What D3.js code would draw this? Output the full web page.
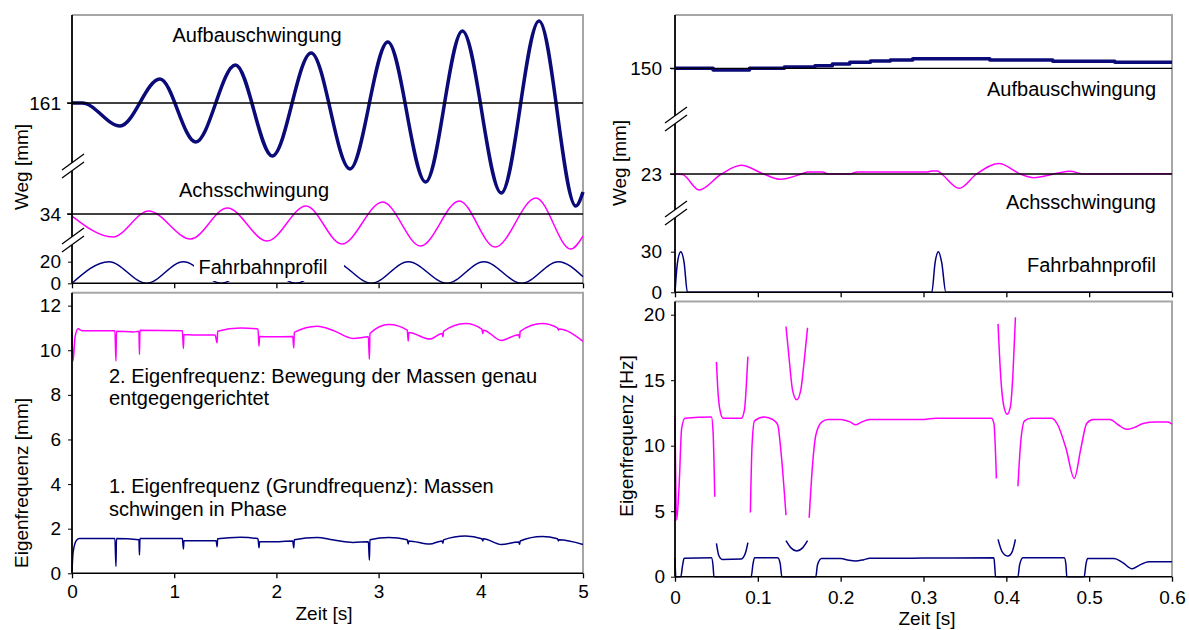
<!DOCTYPE html>
<html>
<head>
<meta charset="utf-8">
<script src="https://cdn.jsdelivr.net/npm/d3@7"></script>
<style>
body { margin: 0; background: #fff; }
</style>
</head>
<body>
<svg id="chart" width="1189" height="630"></svg>
<script>
// ---- data ----
// left: Zeit 0..5 s
var leftTicksX = [0, 1, 2, 3, 4, 5];
var rightTicksX = [0, 0.1, 0.2, 0.3, 0.4, 0.5, 0.6];
var eigLeftTicks = [0, 2, 4, 6, 8, 10, 12];
var eigRightTicks = [0, 5, 10, 15, 20];

// [t, mm]  (axis is broken, each band has its own base value)
var aufbauLeft = [[0,161],[0.1,161],[0.47,139.7],[0.86,183.2],[1.21,124.9],[1.60,196.2],[1.96,111.9],[2.34,207.3],
  [2.72,99.9],[3.09,217.5],[3.46,87.9],[3.82,227.7],[4.20,77.7],[4.57,236.9],[4.93,65.6],[5.0,78.6]];
var achsLeft = [[0,32.1],[0.40,12.7],[0.75,36.8],[1.16,10.9],[1.52,39.6],[1.91,9.0],[2.29,41.4],[2.64,6.2],
  [3.04,45.1],[3.41,4.4],[3.79,46.0],[4.14,3.4],[4.54,48.8],[4.88,1.6],[5.0,13.6]];
var profilLeft = [[0,0],[0.36,20],[0.73,0],[1.09,20],[1.46,0],[1.82,20],[2.19,0],[2.56,20],[2.93,0],
  [3.29,20],[3.67,0],[4.03,20],[4.40,0],[4.76,20],[5.0,6]];

// [t, Hz]
var eigen2Left = [[0,10.85],[0.01,9.52],[0.03,10.6],[0.06,10.96],[0.1,10.87],[0.42,10.87],[0.43,9.52],[0.435,10.85],
  [0.6,10.82],[0.655,10.85],[0.66,9.81],[0.665,10.9],[1.08,10.87],[1.09,10.08],[1.095,10.7],[1.2,10.68],[1.4,10.68],
  [1.42,10.33],[1.425,10.85],[1.65,11.0],[1.82,10.95],[1.83,10.18],[1.835,10.62],[1.95,10.6],[2.16,10.62],[2.17,10.1],
  [2.175,10.8],[2.4,11.08],[2.55,10.9],[2.75,10.53],[2.9,10.6],[2.91,9.59],[2.915,10.75],[3.1,11.15],[3.28,10.9],
  [3.29,10.41],[3.295,10.8],[3.5,10.5],[3.62,10.75],[3.63,10.6],[3.635,10.85],[3.85,11.2],[4.01,10.95],[4.02,10.75],
  [4.025,10.9],[4.2,10.44],[4.37,10.7],[4.38,10.55],[4.385,10.85],[4.6,11.2],[4.75,11.0],[4.76,10.9],[4.765,10.95],[5.0,10.4]];
var eigen1Left = [[0,0.07],[0.01,0.9],[0.04,1.45],[0.07,1.56],[0.42,1.56],[0.43,0.3],[0.435,1.56],[0.655,1.5],[0.66,0.82],
  [0.665,1.56],[1.08,1.56],[1.09,1.09],[1.095,1.46],[1.41,1.46],[1.42,1.19],[1.425,1.55],[1.65,1.62],[1.82,1.55],
  [1.83,1.14],[1.835,1.42],[1.95,1.41],[2.16,1.45],[2.17,1.14],[2.175,1.5],[2.4,1.61],[2.55,1.5],[2.75,1.38],[2.9,1.42],
  [2.91,0.59],[2.915,1.5],[3.1,1.61],[3.28,1.5],[3.29,1.31],[3.295,1.45],[3.5,1.31],[3.62,1.45],[3.63,1.35],[3.635,1.5],
  [3.85,1.67],[4.01,1.55],[4.02,1.45],[4.025,1.55],[4.2,1.29],[4.37,1.4],[4.38,1.3],[4.385,1.45],[4.6,1.65],[4.75,1.55],
  [4.76,1.45],[4.765,1.5],[5.0,1.29]];

// right: Zeit 0..0.6 s
var aufbauRight = [[0,150],[0.046,148.7],[0.090,150],[0.132,151],[0.169,151.9],[0.190,153.2],[0.211,154.4],[0.236,155.4],
  [0.260,156.1],[0.287,157.1],[0.380,156.1],[0.456,155.2],[0.531,154.4],[0.6,154.4]];
var achsRight = [[0,23],[0.009,22.6],[0.029,11.2],[0.056,23],[0.080,29.4],[0.107,23],[0.127,19.1],[0.155,23.5],
  [0.160,24.5],[0.178,24.5],[0.185,23],[0.211,23],[0.220,24.4],[0.304,24.4],[0.310,25.2],[0.317,25.2],[0.322,23],
  [0.343,12.4],[0.364,23],[0.391,30.7],[0.417,23],[0.433,20.3],[0.461,23.5],[0.477,25],[0.493,23],[0.6,23.2]];
var profilRight = [[0,0],[0.003,22],[0.007,30],[0.011,22],[0.015,0],[0.310,0],[0.314,22],[0.318,30],[0.322,22],[0.327,0],[0.6,0]];

var eigen2Right = [[0,12.2],[0.002,4.3],[0.005,7],[0.008,11.3],[0.012,12.1],[0.044,12.2],[0.046,11.0],[0.048,6.1],[0.05,null],
  [0.091,4.9],[0.093,10],[0.096,11.9],[0.108,12.2],[0.118,12.0],[0.124,11.6],[0.128,9.5],[0.134,4.7],[0.14,null],
  [0.162,4.5],[0.166,8.5],[0.170,10.8],[0.177,11.8],[0.185,12.0],[0.200,12.0],[0.212,11.8],[0.218,11.6],[0.225,11.8],
  [0.235,12.0],[0.300,12.0],[0.315,12.1],[0.382,12.1],[0.385,11.7],[0.388,7.5],[0.39,null],
  [0.414,6.9],[0.417,10],[0.422,11.9],[0.430,12.1],[0.455,12.1],[0.462,11.6],[0.472,9.8],[0.482,7.5],[0.490,9.8],
  [0.497,11.7],[0.505,12.0],[0.525,12.0],[0.535,11.6],[0.545,11.25],[0.555,11.4],[0.565,11.7],[0.580,11.8],[0.595,11.8],[0.600,11.65]];
var eigen2RightUpper = [[0.050,16.4],[0.052,14],[0.055,12.5],[0.058,12.1],[0.080,12.1],[0.084,12.8],[0.086,14.5],[0.088,16.8],[0.1,null],
  [0.134,19.1],[0.138,16.5],[0.142,14.2],[0.147,13.5],[0.152,14.3],[0.156,16.5],[0.160,19.0],[0.2,null],
  [0.390,19.3],[0.393,15.5],[0.397,13],[0.401,12.4],[0.405,13],[0.408,15.5],[0.411,19.8]];
var eigen1Right = [[0,1.4],[0.001,0],[0.007,0],[0.009,0.8],[0.011,1.4],[0.044,1.45],[0.046,0.8],[0.047,0],[0.092,0],
  [0.094,0.9],[0.096,1.45],[0.124,1.45],[0.127,1.0],[0.129,0],[0.170,0],[0.172,0.9],[0.177,1.38],[0.200,1.38],[0.210,1.25],
  [0.218,1.2],[0.228,1.3],[0.235,1.4],[0.300,1.42],[0.385,1.45],[0.386,0.8],[0.387,0],[0.414,0],[0.416,0.9],[0.420,1.45],
  [0.470,1.45],[0.472,0.9],[0.473,0],[0.494,0],[0.496,0.9],[0.498,1.38],[0.530,1.38],[0.540,1.1],[0.552,0.6],[0.560,0.85],
  [0.572,1.15],[0.600,1.15]];
var eigen1RightUpper = [[0.050,2.55],[0.053,1.6],[0.057,1.32],[0.080,1.35],[0.085,1.8],[0.088,2.6],[0.1,null],
  [0.134,2.75],[0.140,2.2],[0.147,1.96],[0.154,2.2],[0.160,2.75],[0.2,null],
  [0.390,2.85],[0.395,1.9],[0.402,1.58],[0.407,1.9],[0.411,2.85]];

// ---- drawing ----
var svg = d3.select("#chart");
var FONT = "'Liberation Sans', Arial, sans-serif";
var NAVY = "#000080", PINK = "#ff00ff";

var xL = d3.scaleLinear().domain([0, 5]).range([72, 583]);
var xR = d3.scaleLinear().domain([0, 0.6]).range([675, 1172]);

var yProfL = d3.scaleLinear().domain([0, 20]).range([283.3, 261.7]);
var yAchsL = d3.scaleLinear().domain([34, 14]).range([214, 235.6]);
var yAufL = d3.scaleLinear().domain([161, 141]).range([103, 124.6]);
var yEigL = d3.scaleLinear().domain([0, 12.58]).range([573.3, 292.7]);

var yProfR = d3.scaleLinear().domain([0, 30]).range([292.3, 251.7]);
var yAchsR = d3.scaleLinear().domain([23, 3]).range([174, 201.06]);
var yAufR = d3.scaleLinear().domain([150, 130]).range([68.3, 95.36]);
var yEigR = d3.scaleLinear().domain([0, 21]).range([576.7, 301.6]);

function curve(data, x, y, color, w, c) {
  var line = d3.line()
    .defined(function(d) { return d[1] != null; })
    .x(function(d) { return x(d[0]); })
    .y(function(d) { return y(d[1]); })
    .curve(c || d3.curveMonotoneX);
  svg.append("path").datum(data)
    .attr("d", line)
    .attr("fill", "none")
    .attr("stroke", color)
    .attr("stroke-width", w)
    .attr("stroke-linejoin", "round");
}

function frame(x, y) {
  var x0 = x.range()[0], x1 = x.range()[1], y0 = y.range()[0], y1 = y.range()[1];
  svg.append("path")
    .attr("d", "M" + x0 + "," + y1 + "H" + x1 + "V" + y0)
    .attr("fill", "none").attr("stroke", "#a6a6a6").attr("stroke-width", 2);
}

function refLine(x, y, v) {
  svg.append("line")
    .attr("x1", x.range()[0] - 5).attr("x2", x.range()[1])
    .attr("y1", y(v)).attr("y2", y(v))
    .attr("stroke", "#000").attr("stroke-width", 1.3);
}

function yAxis(scale, vals, x0, pad) {
  var g = svg.append("g").attr("transform", "translate(" + x0 + ",0)")
    .call(d3.axisLeft(scale).tickValues(vals).tickSize(4).tickPadding(pad).tickSizeOuter(0));
  g.select(".domain").remove();
  g.selectAll("text").attr("font-size", 19).attr("font-family", FONT).attr("fill", "#000");
  g.selectAll("line").attr("stroke", "#000");
}

function xAxis(scale, vals, y0, labels, pad) {
  var ax = d3.axisBottom(scale).tickValues(vals).tickSize(5).tickPadding(pad).tickSizeOuter(0);
  if (!labels) ax.tickFormat("");
  else ax.tickFormat(function(d) { return d === 0 ? "0" : (d % 1 === 0 ? d : d3.format(".1f")(d)); });
  var g = svg.append("g").attr("transform", "translate(0," + y0 + ")").call(ax);
  g.select(".domain").remove();
  g.selectAll("text").attr("font-size", 19).attr("font-family", FONT).attr("fill", "#000");
  g.selectAll("line").attr("stroke", "#000").attr("stroke-width", 1.3);
  svg.append("line")
    .attr("x1", scale.range()[0]).attr("x2", scale.range()[1])
    .attr("y1", y0).attr("y2", y0)
    .attr("stroke", "#000").attr("stroke-width", 1.5);
}

function vAxis(x0, yTop, yBot) {
  svg.append("line")
    .attr("x1", x0).attr("x2", x0).attr("y1", yTop).attr("y2", yBot)
    .attr("stroke", "#000").attr("stroke-width", 1.8);
}

function axisBreak(cx, cy) {
  svg.append("polygon")
    .attr("points", [[cx - 11, cy + 4], [cx + 11, cy - 12], [cx + 11, cy - 4], [cx - 11, cy + 12]].join(" "))
    .attr("fill", "#fff");
  [[4, -12], [12, -4]].forEach(function(p) {
    svg.append("line")
      .attr("x1", cx - 11).attr("y1", cy + p[0])
      .attr("x2", cx + 11).attr("y2", cy + p[1])
      .attr("stroke", "#000").attr("stroke-width", 1.3);
  });
}

function label(txt, x, y, anchor, bg) {
  var t = svg.append("text")
    .attr("x", x).attr("y", y)
    .attr("text-anchor", anchor)
    .attr("dominant-baseline", "central")
    .attr("font-family", FONT).attr("font-size", 20)
    .text(txt);
  if (bg) {
    svg.insert("rect", function() { return t.node(); })
      .attr("x", bg[0]).attr("y", bg[1]).attr("width", bg[2]).attr("height", bg[3])
      .attr("fill", "#fff");
  }
}

function title(txt, x, y, rot) {
  svg.append("text")
    .attr("transform", "translate(" + x + "," + y + ")" + (rot ? " rotate(-90)" : ""))
    .attr("text-anchor", "middle")
    .attr("dominant-baseline", "central")
    .attr("font-family", FONT).attr("font-size", 19)
    .text(txt);
}

// left top: Weg
frame(xL, d3.scaleLinear().range([283.3, 15]));
curve(profilLeft, xL, yProfL, NAVY, 1.5);
curve(achsLeft, xL, yAchsL, PINK, 1.5);
curve(aufbauLeft, xL, yAufL, "#0a0a78", 3.5);
refLine(xL, yAufL, 161);
refLine(xL, yAchsL, 34);
label("Aufbauschwingung", 257, 35, "middle");
label("Achsschwingung", 254, 190, "middle");
label("Fahrbahnprofil", 263, 267, "middle", [194, 251, 150, 30]);
vAxis(72, 15, 283.3);
yAxis(yAufL, [161], 72, 7);
yAxis(yAchsL, [34], 72, 7);
yAxis(yProfL, [0, 20], 72, 7);
xAxis(xL, leftTicksX, 283.3, false, 0);
axisBreak(73, 166);
axisBreak(73, 240);
title("Weg [mm]", 21, 167, true);

// left bottom: Eigenfrequenz
frame(xL, yEigL);
curve(eigen2Left, xL, yEigL, PINK, 1.5);
curve(eigen1Left, xL, yEigL, NAVY, 1.5);
svg.append("text").attr("font-family", FONT).attr("font-size", 20).attr("dominant-baseline", "central")
  .selectAll("tspan")
  .data([["2. Eigenfrequenz: Bewegung der Massen genau", 376], ["entgegengerichtet", 398],
         ["1. Eigenfrequenz (Grundfrequenz): Massen", 486], ["schwingen in Phase", 509]])
  .enter().append("tspan")
  .attr("x", 109).attr("y", function(d) { return d[1]; })
  .text(function(d) { return d[0]; });
vAxis(72, 292.7, 573.3);
yAxis(yEigL, eigLeftTicks, 72, 7);
xAxis(xL, leftTicksX, 573.3, true, 6);
title("Eigenfrequenz [mm]", 21, 483, true);
title("Zeit [s]", 324, 613, false);

// right top: Weg
frame(xR, d3.scaleLinear().range([292.3, 15]));
curve(profilRight, xR, yProfR, NAVY, 1.5);
curve(achsRight, xR, yAchsR, PINK, 1.5);
curve(aufbauRight, xR, yAufR, "#0a0a78", 3.5, d3.curveStepAfter);
refLine(xR, yAufR, 150);
refLine(xR, yAchsR, 23);
label("Aufbauschwingung", 1156, 89, "end");
label("Achsschwingung", 1156, 202, "end");
label("Fahrbahnprofil", 1156, 265, "end");
vAxis(675, 15, 292.3);
yAxis(yAufR, [150], 675, 9);
yAxis(yAchsR, [23], 675, 9);
yAxis(yProfR, [0, 30], 675, 9);
xAxis(xR, rightTicksX, 292.3, false, 0);
axisBreak(676, 119);
axisBreak(676, 213);
title("Weg [mm]", 619, 163, true);

// right bottom: Eigenfrequenz
frame(xR, yEigR);
curve(eigen2Right, xR, yEigR, PINK, 1.5);
curve(eigen2RightUpper, xR, yEigR, PINK, 1.5);
curve(eigen1Right, xR, yEigR, NAVY, 1.5);
curve(eigen1RightUpper, xR, yEigR, NAVY, 1.5);
vAxis(675, 301.6, 576.7);
yAxis(yEigR, eigRightTicks, 675, 6);
xAxis(xR, rightTicksX, 576.7, true, 9);
title("Eigenfrequenz [Hz]", 626, 436, true);
title("Zeit [s]", 927, 618, false);
</script>
</body>
</html>
